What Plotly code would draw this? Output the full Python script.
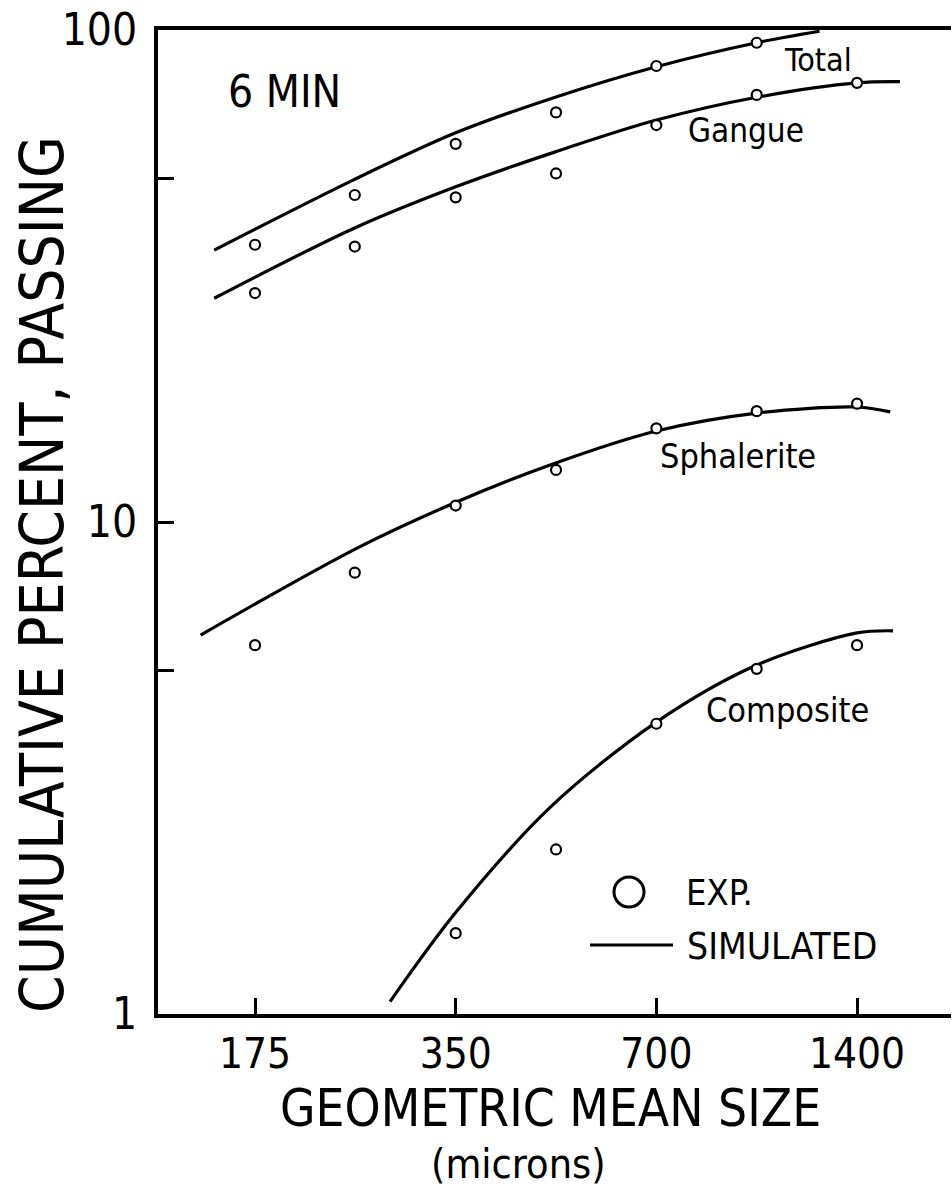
import plotly.graph_objects as go

# Geometric mean sizes (microns) of the sieve fractions
sizes_exp = [175, 247, 350, 495, 700, 990, 1400]

# Experimental cumulative percent passing, 6 min grind
total_exp = [36.6, 46.2, 58.7, 68.0, 84.5, 94.2]
gangue_exp = [29.2, 36.3, 45.7, 51.1, 64.1, 73.8, 78.1]
sphalerite_exp = [5.62, 7.89, 10.8, 12.76, 15.5, 16.8, 17.4]
composite_sizes = [350, 495, 700, 990, 1400]
composite_exp = [1.46, 2.16, 3.89, 5.03, 5.62]

# Simulated curves
total_sim_x = [152, 246, 350, 495, 700, 990, 1230]
total_sim_y = [35.7, 49.6, 61.8, 73.1, 84.2, 94.2, 99.4]
gangue_sim_x = [152, 246, 350, 495, 700, 990, 1400, 1624]
gangue_sim_y = [28.5, 39.5, 48.0, 56.6, 65.6, 73.0, 78.1, 78.5]
sphalerite_sim_x = [145, 249, 351, 485, 700, 990, 1400, 1570]
sphalerite_sim_y = [5.89, 8.85, 10.98, 13.06, 15.31, 16.65, 17.13, 16.74]
composite_sim_x = [279, 349, 485, 700, 990, 1400, 1585]
composite_sim_y = [1.06, 1.60, 2.63, 3.92, 5.12, 5.95, 6.01]

x_ticks = [175, 350, 700, 1400]
x_tick_text = ["175", "350", "700", "1400"]
y_ticks = [1, 5, 10, 50, 100]
y_tick_text = ["1", "", "10", "", "100"]

FONT = "DejaVu Sans Condensed, Liberation Sans Narrow, sans-serif"
W, H = 952, 1188
L, R, T, B = 158, 1, 30, 174
PW, PH = W - L - R, H - T - B


def px(x):
    return (x - L) / PW


def py(y):
    return (H - B - y) / PH


fig = go.Figure()

line_style = dict(color="black", width=3.2, shape="spline", smoothing=0.9)
for sx, sy in [(total_sim_x, total_sim_y), (gangue_sim_x, gangue_sim_y),
               (sphalerite_sim_x, sphalerite_sim_y), (composite_sim_x, composite_sim_y)]:
    fig.add_trace(go.Scatter(x=sx, y=sy, mode="lines", line=line_style,
                             showlegend=False, hoverinfo="skip"))

marker_style = dict(symbol="circle", size=10, color="white",
                    line=dict(color="black", width=2.2))
for ex, ey in [(sizes_exp[:len(total_exp)], total_exp), (sizes_exp, gangue_exp),
               (sizes_exp, sphalerite_exp), (composite_sizes, composite_exp)]:
    fig.add_trace(go.Scatter(x=ex, y=ey, mode="markers", marker=marker_style,
                             showlegend=False, hoverinfo="skip", cliponaxis=False))

annotations = [
    dict(text="6 MIN", x=px(284), y=py(92), size=44),
    dict(text="Total", x=px(818), y=py(60), size=32),
    dict(text="Gangue", x=px(746), y=py(130), size=33),
    dict(text="Sphalerite", x=px(738), y=py(456), size=34),
    dict(text="Composite", x=px(787), y=py(710), size=34),
    dict(text="EXP.", x=px(719), y=py(892), size=36),
    dict(text="SIMULATED", x=px(782), y=py(946), size=37),
    dict(text="GEOMETRIC MEAN SIZE", x=px(550), y=py(1108), size=51),
    dict(text="(microns)", x=px(518), y=py(1164), size=41),
]
for a in annotations:
    fig.add_annotation(text=a["text"], x=a["x"], y=a["y"], xref="paper", yref="paper",
                       showarrow=False, xanchor="center", yanchor="middle",
                       font=dict(family=FONT, size=a["size"], color="black"))

fig.add_annotation(text="CUMULATIVE PERCENT, PASSING", x=px(42), y=py(575),
                   xref="paper", yref="paper", showarrow=False, textangle=-90,
                   xanchor="center", yanchor="middle",
                   font=dict(family=FONT, size=60, color="black"))

# Legend key: open circle and solid line
fig.add_shape(type="circle", xref="paper", yref="paper", xsizemode="pixel",
              ysizemode="pixel", xanchor=px(629), yanchor=py(892),
              x0=-15, x1=15, y0=-15, y1=15, line=dict(color="black", width=3))
fig.add_shape(type="line", xref="paper", yref="paper", x0=px(590), x1=px(673),
              y0=py(945), y1=py(945), line=dict(color="black", width=3.2))

fig.update_xaxes(type="log", range=[2.0975, 3.2871], tickvals=x_ticks,
                 ticktext=x_tick_text, ticks="inside", ticklen=16, tickwidth=3,
                 tickcolor="black", showline=True, linewidth=4, linecolor="black",
                 mirror=True, showgrid=False, zeroline=False, ticklabelstandoff=0,
                 tickfont=dict(family=FONT, size=42, color="black"))
fig.update_yaxes(type="log", range=[0, 2], tickvals=y_ticks, ticktext=y_tick_text,
                 ticks="inside", ticklen=16, tickwidth=3, tickcolor="black",
                 showline=True, linewidth=4, linecolor="black", showgrid=False,
                 zeroline=False, ticklabelstandoff=8,
                 tickfont=dict(family=FONT, size=44, color="black"))

fig.update_layout(width=W, height=H, margin=dict(l=L, r=R, t=T, b=B),
                  paper_bgcolor="white", plot_bgcolor="white", showlegend=False)

fig.write_html("out.html")
